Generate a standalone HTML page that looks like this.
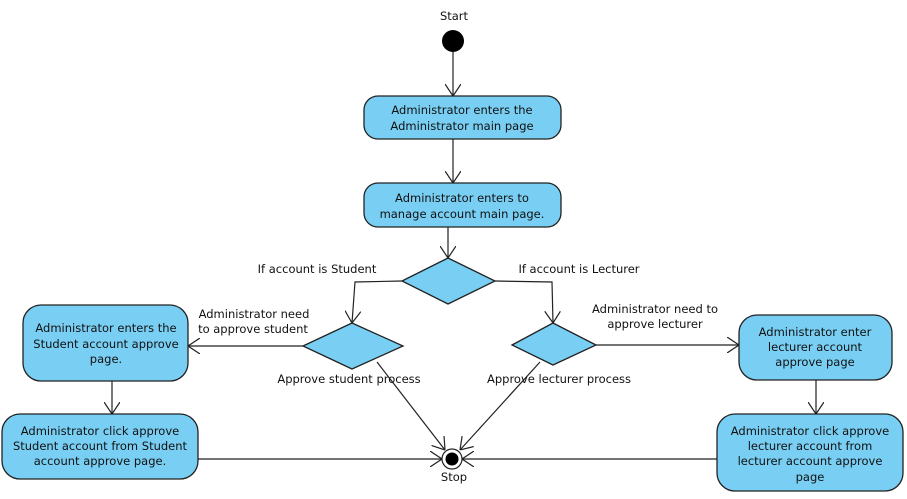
<!DOCTYPE html>
<html><head><meta charset="utf-8"><style>
html,body{margin:0;padding:0;background:#fff;width:907px;height:499px;overflow:hidden}
text{font-family:"DejaVu Sans","Liberation Sans",sans-serif;font-size:11.5px;fill:#111}
</style></head><body>
<svg width="907" height="499" viewBox="0 0 907 499" xmlns="http://www.w3.org/2000/svg">
<defs>
<marker id="a" viewBox="0 0 12 16" refX="12" refY="8" markerWidth="12" markerHeight="16" markerUnits="userSpaceOnUse" orient="auto">
<path d="M0,0 L12,8 L0,16" fill="none" stroke="#222" stroke-width="1.2"/>
</marker>
</defs>
<g fill="#79cff3" stroke="#222" stroke-width="1.3">
<rect x="364" y="96" width="197" height="43" rx="14"/>
<rect x="364" y="183" width="197" height="44" rx="14"/>
<rect x="23" y="305" width="165" height="76" rx="18"/>
<rect x="2" y="414" width="196" height="65" rx="18"/>
<rect x="739" y="315" width="153" height="65" rx="18"/>
<rect x="717" y="414" width="186" height="77" rx="18"/>
<polygon points="402,281 448,258 495,281 448,304"/>
<polygon points="303,346 352,323 403,346 352,369"/>
<polygon points="512,345 553,323 596,345 553,365"/>
</g>
<circle cx="453" cy="41" r="11" fill="#000"/>
<circle cx="452" cy="459" r="10" fill="#fff" stroke="#222" stroke-width="1.2"/>
<circle cx="452" cy="459" r="6.5" fill="#000"/>
<g stroke="#222" stroke-width="1.2" fill="none" marker-end="url(#a)">
<line x1="453" y1="52" x2="453" y2="96"/>
<line x1="453" y1="139" x2="453" y2="183"/>
<line x1="448" y1="227" x2="448" y2="258"/>
<polyline points="402,281 355,282 352,323"/>
<polyline points="495,281 552,282 553,323"/>
<line x1="303" y1="346" x2="188" y2="346"/>
<line x1="596" y1="345" x2="739" y2="345"/>
<line x1="112" y1="381" x2="112" y2="414"/>
<line x1="816" y1="380" x2="816" y2="414"/>
<line x1="198" y1="459" x2="442" y2="459"/>
<line x1="717" y1="459" x2="462" y2="459"/>
<line x1="377" y1="362" x2="445" y2="450"/>
<line x1="540" y1="362" x2="460" y2="450"/>
</g>
<g text-anchor="middle">
<text x="454" y="20">Start</text>
<text x="454" y="462" dy="19">Stop</text>
<text x="462" y="114">Administrator enters the</text>
<text x="462" y="130">Administrator main page</text>
<text x="462" y="202">Administrator enters to</text>
<text x="462" y="218">manage account main page.</text>
<text x="106" y="332">Administrator enters the</text>
<text x="106" y="348">Student account approve</text>
<text x="106" y="363">page.</text>
<text x="100" y="435">Administrator click approve</text>
<text x="100" y="450">Student account from Student</text>
<text x="100" y="465">account approve page.</text>
<text x="815" y="336">Administrator enter</text>
<text x="815" y="351">lecturer account</text>
<text x="815" y="366">approve page</text>
<text x="810" y="435">Administrator click approve</text>
<text x="810" y="450">lecturer account from</text>
<text x="810" y="465">lecturer account approve</text>
<text x="810" y="481">page</text>
<text x="349" y="383">Approve student process</text>
<text x="559" y="383">Approve lecturer process</text>
<text x="317" y="273">If account is Student</text>
<text x="579" y="273">If account is Lecturer</text>
<text x="254" y="318">Administrator need</text>
<text x="253" y="333">to approve student</text>
<text x="655" y="313">Administrator need to</text>
<text x="655" y="328">approve lecturer</text>
</g>
</svg>
</body></html>
